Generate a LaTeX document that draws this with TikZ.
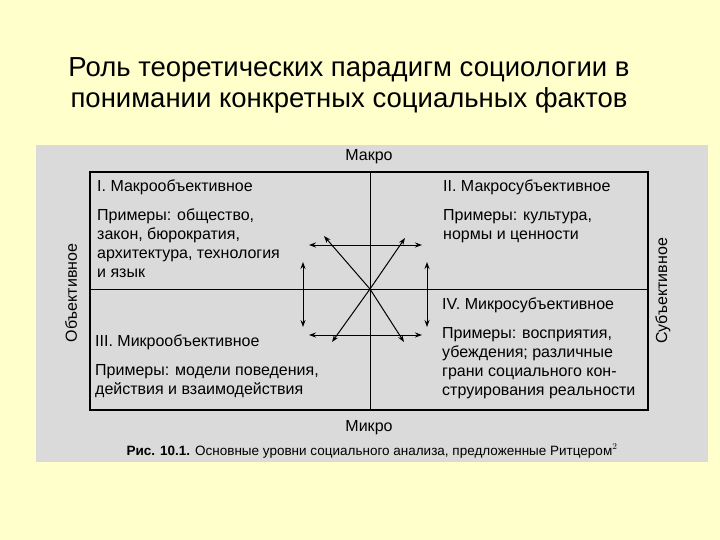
\documentclass[tikz,border=0pt]{standalone}
\usepackage{fontspec}
\setmainfont{Liberation Sans}
\usetikzlibrary{arrows.meta}
\definecolor{bg}{HTML}{FFFFCC}
\definecolor{scan}{HTML}{DADADA}
\begin{document}
\begin{tikzpicture}[x=1pt,y=-1pt,
  txt/.style={font=\fontsize{16}{19}\selectfont, align=left, anchor=north west, inner sep=0pt},
  lab/.style={font=\fontsize{16}{18}\selectfont},
  ar/.style={-{Stealth[length=7pt,width=5pt]}, line width=1pt},
  dar/.style={{Stealth[length=7pt,width=5pt]}-{Stealth[length=7pt,width=5pt]}, line width=1pt}]
\fill[bg] (0,0) rectangle (720,540);
\useasboundingbox (0,0) rectangle (720,540);
\node[font=\fontsize{27.5}{31}\selectfont, align=center] (title) at (349,85) {Роль теоретических парадигм социологии в\\понимании конкретных социальных фактов};
\fill[scan] (36,145) rectangle (708,462);
\draw[line width=1.2pt] (90,172) rectangle (648,410);
\coordinate (t) at (370,172); \coordinate (b) at (370,410);
\coordinate (l) at (90,289); \coordinate (r) at (648,289);
\coordinate (c) at (370,289);
\draw[line width=1pt] (t) -- (b) (l) -- (r);
\node[lab] (makro) at (369,157) {Макро};
\node[lab] (mikro) at (369,428) {Микро};
\node[lab, rotate=90] (obj) at (71,293) {Объективное};
\node[lab, rotate=90] (subj) at (663,291) {Субъективное};
\node[font=\bfseries\fontsize{13.5}{15}\selectfont] (cap) at (372,451) {Рис. 10.1. \mdseries Основные уровни социального анализа, предложенные Ритцером$^2$};
\node[txt] (q1) at (97,180) {I. Макрообъективное\\[10pt]Примеры: общество,\\закон, бюрократия,\\архитектура, технология\\и язык};
\node[txt] (q2) at (443,180) {II. Макросубъективное\\[10pt]Примеры: культура,\\нормы и ценности};
\node[txt] (q4) at (442,298) {IV. Микросубъективное\\[10pt]Примеры: восприятия,\\убеждения; различные\\грани социального кон-\\струирования реальности};
\node[txt] (q3) at (95,335) {III. Микрообъективное\\[10pt]Примеры: модели поведения,\\действия и взаимодействия};
\coordinate (ha1) at (309,245); \coordinate (hb1) at (422,245);
\coordinate (ha2) at (309,335); \coordinate (hb2) at (422,335);
\coordinate (va1) at (303,262); \coordinate (vb1) at (303,327);
\coordinate (va2) at (427,262); \coordinate (vb2) at (427,327);
\draw[dar] (ha1) -- (hb1);
\draw[dar] (ha2) -- (hb2);
\draw[dar] (va1) -- (vb1);
\draw[dar] (va2) -- (vb2);
\coordinate (d1) at (324,236); \coordinate (d2) at (405,238);
\coordinate (d3) at (332,342); \coordinate (d4) at (404,342);
\draw[ar] (c) -- (d1);
\draw[ar] (c) -- (d2);
\draw[ar] (c) -- (d3);
\draw[ar] (c) -- (d4);
\end{tikzpicture}
\end{document}
